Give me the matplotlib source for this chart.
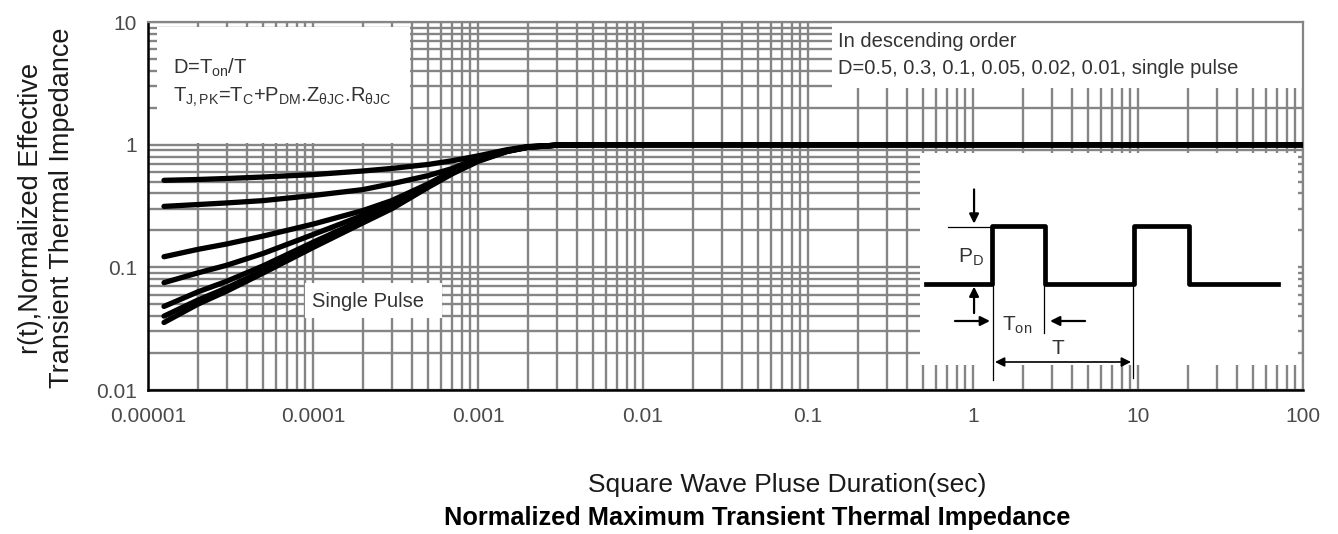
import matplotlib
matplotlib.use('Agg')
import matplotlib.pyplot as plt
from matplotlib.patches import Rectangle
from matplotlib.ticker import LogLocator, FixedLocator, FixedFormatter

plt.rcParams['font.family'] = ['Liberation Sans', 'DejaVu Sans']
plt.rcParams['mathtext.fontset'] = 'custom'
plt.rcParams['mathtext.rm'] = 'Liberation Sans'
plt.rcParams['mathtext.it'] = 'Liberation Sans'
plt.rcParams['mathtext.bf'] = 'Liberation Sans:bold'

# pulse duration (sec), shared by all curves
pulse_time = [1.25e-5, 2e-5, 3e-5, 5e-5, 1e-4, 2e-4, 3e-4, 5e-4, 7e-4,
              1e-3, 1.5e-3, 2e-3, 3e-3, 5e-3, 100]

# normalized effective transient thermal impedance
r_d05 = [0.512, 0.52, 0.53, 0.545, 0.57, 0.61, 0.64, 0.69, 0.74, 0.81, 0.91, 0.965, 0.99, 1.0, 1.0]
r_d03 = [0.314, 0.325, 0.335, 0.35, 0.385, 0.43, 0.48, 0.56, 0.64, 0.78, 0.90, 0.96, 0.99, 1.0, 1.0]
r_d01 = [0.122, 0.14, 0.155, 0.18, 0.225, 0.29, 0.35, 0.48, 0.61, 0.76, 0.89, 0.96, 0.99, 1.0, 1.0]
r_d005 = [0.075, 0.09, 0.104, 0.13, 0.185, 0.265, 0.33, 0.47, 0.60, 0.75, 0.89, 0.955, 0.99, 1.0, 1.0]
r_d002 = [0.048, 0.063, 0.077, 0.103, 0.16, 0.245, 0.315, 0.46, 0.59, 0.745, 0.885, 0.955, 0.99, 1.0, 1.0]
r_d001 = [0.040, 0.054, 0.068, 0.094, 0.15, 0.235, 0.305, 0.455, 0.585, 0.74, 0.88, 0.95, 0.99, 1.0, 1.0]
r_single = [0.0355, 0.05, 0.064, 0.09, 0.145, 0.23, 0.30, 0.45, 0.58, 0.73, 0.88, 0.95, 0.99, 1.0, 1.0]

curves = [r_d05, r_d03, r_d01, r_d005, r_d002, r_d001, r_single]

x_ticks = [1e-5, 1e-4, 1e-3, 1e-2, 1e-1, 1, 10, 100]
x_labels = ['0.00001', '0.0001', '0.001', '0.01', '0.1', '1', '10', '100']
y_ticks = [0.01, 0.1, 1, 10]
y_labels = ['0.01', '0.1', '1', '10']

grid_col = '#858585'
txt_col = '#333333'

fig = plt.figure(figsize=(13.38, 5.34), dpi=100)
ax = fig.add_axes([148 / 1338, 1 - 390 / 534, 1155 / 1338, 368 / 534])
ax.set_xscale('log')
ax.set_yscale('log')
ax.set_xlim(1e-5, 100)
ax.set_ylim(0.01, 10)

ax.xaxis.set_major_locator(FixedLocator(x_ticks))
ax.xaxis.set_major_formatter(FixedFormatter(x_labels))
ax.yaxis.set_major_locator(FixedLocator(y_ticks))
ax.yaxis.set_major_formatter(FixedFormatter(y_labels))
ax.xaxis.set_minor_locator(LogLocator(base=10, subs=range(2, 10), numticks=20))
ax.yaxis.set_minor_locator(LogLocator(base=10, subs=range(2, 10), numticks=20))
ax.xaxis.set_minor_formatter(plt.NullFormatter())
ax.yaxis.set_minor_formatter(plt.NullFormatter())
ax.tick_params(which='both', length=0)
ax.tick_params(axis='x', labelsize=15, labelcolor='#4a4a4a', pad=12)
ax.tick_params(axis='y', labelsize=15, labelcolor='#4a4a4a', pad=8)

ax.set_axisbelow(True)
ax.grid(which='both', color=grid_col, linewidth=1.7)

for side in ['left', 'bottom']:
    ax.spines[side].set_color('black')
    ax.spines[side].set_linewidth(1.8)
for side in ['top', 'right']:
    ax.spines[side].set_color(grid_col)
    ax.spines[side].set_linewidth(1.6)

# white boxes that hide the grid
for (bx, by, bw, bh) in [(0.0078, 0.6712, 0.219, 0.315),
                         (0.5922, 0.8207, 0.4078, 0.1793),
                         (0.6684, 0.068, 0.3273, 0.576),
                         (0.136, 0.1957, 0.1185, 0.095)]:
    ax.add_patch(Rectangle((bx, by), bw, bh, transform=ax.transAxes,
                           facecolor='white', edgecolor='none', zorder=1))

for r in curves:
    ax.plot(pulse_time, r, color='black', linewidth=3.8, solid_capstyle='round', zorder=3)

# annotations
ax.text(0.022, 0.875, r'D=T$_{\rm on}$/T', transform=ax.transAxes,
        fontsize=14.5, color=txt_col, va='center', zorder=4)
ax.text(0.022, 0.795, r'T$_{\rm J,PK}$=T$_{\rm C}$+P$_{\rm DM}$.Z$_{\rm \theta JC}$.R$_{\rm \theta JC}$',
        transform=ax.transAxes, fontsize=14.5, color=txt_col, va='center', zorder=4)
ax.text(0.597, 0.948, 'In descending order', transform=ax.transAxes,
        fontsize=14.5, color=txt_col, va='center', zorder=4)
ax.text(0.597, 0.874, 'D=0.5, 0.3, 0.1, 0.05, 0.02, 0.01, single pulse', transform=ax.transAxes,
        fontsize=14.5, color=txt_col, va='center', zorder=4)
ax.text(0.142, 0.240, 'Single Pulse', transform=ax.transAxes,
        fontsize=14.5, color=txt_col, va='center', zorder=4)

# square wave inset
L, H = 0.288, 0.4457
wx = [0.6736, 0.7307, 0.7307, 0.7766, 0.7766, 0.8537, 0.8537, 0.9013, 0.9013, 0.9784]
wy = [L, L, H, H, L, L, H, H, L, L]
ax.plot(wx, wy, transform=ax.transAxes, color='black', linewidth=3.4, zorder=4)
thin = dict(transform=ax.transAxes, color='black', linewidth=0.9, zorder=4)
ax.plot([0.6926, 0.7307], [0.442, 0.442], **thin)
ax.plot([0.7316, 0.7316], [L, 0.027], **thin)
ax.plot([0.7758, 0.7758], [L, 0.155], **thin)
ax.plot([0.8528, 0.8528], [L, 0.033], **thin)

arr = dict(arrowstyle='-|>', color='black', lw=1.6, mutation_scale=14, shrinkA=0, shrinkB=0)
ax.annotate('', xy=(0.7152, 0.452), xytext=(0.7152, 0.545), xycoords='axes fraction', arrowprops=arr, zorder=4)
ax.annotate('', xy=(0.7152, 0.281), xytext=(0.7152, 0.209), xycoords='axes fraction', arrowprops=arr, zorder=4)
ax.annotate('', xy=(0.729, 0.1875), xytext=(0.6987, 0.1875), xycoords='axes fraction', arrowprops=arr, zorder=4)
ax.annotate('', xy=(0.781, 0.1875), xytext=(0.8113, 0.1875), xycoords='axes fraction', arrowprops=arr, zorder=4)
ax.annotate('', xy=(0.7333, 0.0761), xytext=(0.8511, 0.0761), xycoords='axes fraction',
            arrowprops=dict(arrowstyle='<|-|>', color='black', lw=1.2, mutation_scale=14,
                            shrinkA=0, shrinkB=0), zorder=4)
ax.text(0.7126, 0.361, r'P$_{\rm D}$', transform=ax.transAxes, fontsize=15,
        color=txt_col, ha='center', va='center', zorder=4)
ax.text(0.7524, 0.177, r'T$_{\rm on}$', transform=ax.transAxes, fontsize=15,
        color=txt_col, ha='center', va='center', zorder=4)
ax.text(0.7879, 0.114, 'T', transform=ax.transAxes, fontsize=15,
        color=txt_col, ha='center', va='center', zorder=4)

fig.text(47 / 1338, 1 - 208 / 534, 'r(t),Normalized Effective\nTransient Thermal Impedance',
         rotation=90, ha='center', va='center', multialignment='center',
         fontsize=19.5, color='#1a1a1a', linespacing=1.25)
fig.text(787 / 1338, 1 - 485 / 534, 'Square Wave Pluse Duration(sec)',
         ha='center', va='center', fontsize=19, color='#1a1a1a')
fig.text(757 / 1338, 1 - 518 / 534, 'Normalized Maximum Transient Thermal Impedance',
         ha='center', va='center', fontsize=18.3, fontweight='bold', color='black')

fig.savefig('out.png', dpi=100, facecolor='white')
